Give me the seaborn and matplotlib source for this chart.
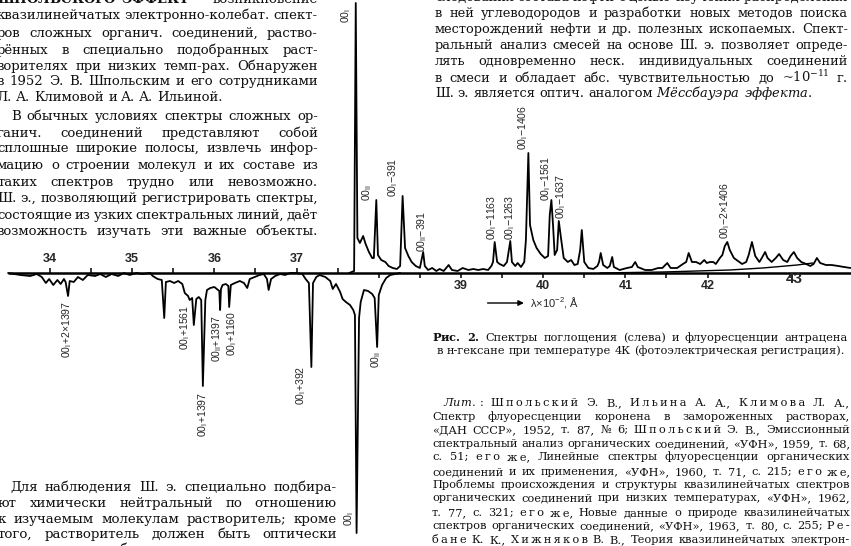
import matplotlib
matplotlib.use("Agg")
import matplotlib.pyplot as plt
import seaborn as sns

# absorption spectrum (left part, drawn downwards); wavelength in units of 100 A
abs_wl = [33.49, 33.64, 33.76, 33.84, 33.90, 33.95, 33.99, 34.04, 34.09, 34.13,
          34.17, 34.19, 34.22, 34.24, 34.29, 34.34, 34.40, 34.46, 34.55, 34.61,
          34.68, 34.75, 34.83, 34.90, 34.97, 35.05, 35.12, 35.22, 35.25, 35.31,
          35.36, 35.39, 35.41, 35.46, 35.51, 35.56, 35.61, 35.64, 35.68, 35.70,
          35.73, 35.75, 35.78, 35.81, 35.84, 35.86, 35.89, 35.91, 35.95, 36.00,
          36.03, 36.06, 36.07, 36.08, 36.10, 36.14, 36.17, 36.18, 36.20, 36.25,
          36.31, 36.36, 36.40, 36.43, 36.49, 36.55, 36.60, 36.64, 36.66, 36.69,
          36.74, 36.80, 36.86, 36.92, 36.99, 37.07, 37.11, 37.15, 37.18, 37.20,
          37.24, 37.28, 37.35, 37.41, 37.44, 37.48, 37.53, 37.56, 37.60, 37.65,
          37.69, 37.71, 37.73, 37.76, 37.78, 37.82, 37.87, 37.92, 37.95, 37.98,
          38.00, 38.04, 38.09, 38.14, 38.20, 38.26]
abs_int = [0, -2, -3, -1, -4, -10, -6, -12, -7, -11,
           -6, -9, -23, -8, -9, -4, -7, -2, -3, -1,
           -4, -1, -3, 0, -2, 0, -1, 0, -3, -6,
           -7, -45, -9, -8, -10, -8, -11, -20, -23, -27,
           -25, -52, -26, -24, -27, -113, -27, -17, -15, -14,
           -16, -18, -37, -16, -12, -11, -13, -34, -12, -10,
           -8, -10, -15, -6, -4, -2, -1, -6, -17, -6,
           -3, -1, -2, 0, 0, -1, -6, -10, -94, -10,
           -4, -2, -4, -8, -16, -11, -19, -26, -29, -32,
           -37, -42, -260, -45, -29, -17, -18, -21, -25, -74,
           -22, -12, -5, -2, -1, 0]

# fluorescence spectrum (right part, drawn upwards)
fl_wl = [37.64, 37.67, 37.70, 37.72, 37.74, 37.77, 37.81, 37.84, 37.88, 37.92,
         37.94, 37.97, 37.99, 38.03, 38.08, 38.12, 38.17, 38.22, 38.26, 38.29,
         38.32, 38.36, 38.40, 38.45, 38.50, 38.54, 38.56, 38.60, 38.65, 38.70,
         38.74, 38.79, 38.85, 38.89, 38.96, 39.02, 39.09, 39.15, 39.21, 39.27,
         39.33, 39.37, 39.39, 39.41, 39.44, 39.47, 39.52, 39.56, 39.60, 39.62,
         39.66, 39.69, 39.73, 39.77, 39.79, 39.82, 39.84, 39.88, 39.92, 39.97,
         40.02, 40.06, 40.08, 40.10, 40.12, 40.14, 40.17, 40.19, 40.22, 40.25,
         40.30, 40.34, 40.38, 40.42, 40.45, 40.47, 40.50, 40.55, 40.61, 40.66,
         40.68, 40.70, 40.73, 40.78, 40.81, 40.84, 40.86, 40.93, 41.02, 41.08,
         41.12, 41.15, 41.24, 41.32, 41.40, 41.45, 41.51, 41.55, 41.63, 41.70,
         41.74, 41.77, 41.81, 41.86, 41.91, 41.96, 41.99, 42.03, 42.07, 42.10,
         42.15, 42.18, 42.21, 42.24, 42.27, 42.32, 42.37, 42.42, 42.47, 42.50,
         42.54, 42.58, 42.63, 42.66, 42.70, 42.73, 42.78, 42.83, 42.87, 42.92,
         42.97, 43.01, 43.05, 43.09, 43.14, 43.20, 43.25, 43.29, 43.33, 43.37,
         43.44, 43.51, 43.59, 43.66, 43.74]
fl_int = [0, 1, 2, 270, 35, 30, 37, 29, 21, 15,
          15, 73, 18, 13, 11, 7, 5, 4, 7, 77,
          25, 17, 11, 7, 5, 21, 7, 3, 5, 2,
          4, 2, 8, 3, 2, 5, 3, 4, 3, 4,
          3, 7, 11, 31, 11, 9, 7, 11, 32, 11,
          7, 10, 6, 11, 33, 120, 48, 33, 25, 19,
          15, 17, 58, 73, 48, 18, 23, 52, 33, 15,
          11, 13, 8, 9, 23, 43, 11, 5, 4, 7,
          11, 20, 8, 5, 7, 16, 6, 3, 5, 6,
          11, 6, 3, 3, 5, 5, 10, 5, 5, 9,
          11, 20, 11, 11, 9, 13, 10, 11, 11, 9,
          15, 18, 27, 31, 23, 15, 12, 9, 11, 18,
          31, 17, 11, 15, 21, 15, 11, 15, 19, 13,
          11, 17, 21, 15, 11, 9, 7, 9, 15, 10,
          8, 8, 7, 6, 5]

# smooth background line under the long-wave end of the fluorescence
bg_wl = [40.69, 41.46, 42.27, 42.67, 43.09, 43.28]
bg_int = [0, 1, 3, 5, 8, 10]

# axis ticks
abs_major = [34, 35, 36, 37]
abs_minor = [34.5, 35.5, 36.5, 37.5]
fl_major = [39, 40, 41, 42, 43]
fl_minor = [38.0, 38.5, 39.5, 40.5, 41.5, 42.5]

I = r"$_\mathregular{I}$"
II = r"$_\mathregular{II}$"
fl_names = ["00" + I, "00" + II, "00" + I + "−391", "00" + II + "−391", "00" + I + "−1163",
            "00" + I + "−1263", "00" + I + "−1406", "00" + I + "−1561", "00" + I + "−1637",
            "00" + I + "−2×1406"]
abs_names = ["00" + I + "+2×1397", "00" + I + "+1561", "00" + I + "+1397", "00" + II + "+1397",
             "00" + I + "+1160", "00" + I + "+392", "00" + II, "00" + I]

sns.set_theme(style="white")
plt.rcParams["font.family"] = ["DejaVu Serif"]
plt.rcParams["mathtext.fontset"] = "dejavuserif"
SANS = ["Liberation Sans", "DejaVu Sans"]

W, H = 851, 546
fig = plt.figure(figsize=(W / 100, H / 100), dpi=100)
ax = fig.add_axes([0, 0, 1, 1])
ax.set_xlim(33.392, 43.745)
ax.set_ylim(-273, 273)
ax.set_axis_off()

sns.lineplot(x=abs_wl, y=abs_int, sort=False, estimator=None, color="black", lw=1.3, ax=ax)
sns.lineplot(x=fl_wl, y=fl_int, sort=False, estimator=None, color="black", lw=1.3, ax=ax)
sns.lineplot(x=bg_wl, y=bg_int, sort=False, estimator=None, color="black", lw=1.0, ax=ax)
ax.hlines(0, 33.49, 43.745, color="black", lw=1.8)

# ticks: absorption scale above the line, fluorescence scale below it
ax.vlines(abs_major + abs_minor, 0, 5, color="black", lw=1.1)
ax.vlines(fl_major + fl_minor, -5, 0, color="black", lw=1.1)
for t in abs_major:
    ax.text(t, 14, str(t), ha="center", va="center", fontsize=9, weight="bold", family=SANS)
for t in fl_major[:-1]:
    ax.text(t, -13, str(t), ha="center", va="center", fontsize=9, weight="bold", family=SANS)
ax.text(43.06, -6, "43", ha="center", va="center", fontsize=11, weight="bold", family=SANS)

ax.annotate("", xy=(39.80, -30), xytext=(39.29, -30),
            arrowprops=dict(arrowstyle="-|>", color="black", lw=1.0, mutation_scale=8))
ax.text(39.84, -30, r"λ×10$^\mathregular{-2}$, Å", ha="left", va="center", fontsize=8, family=SANS)

# line assignments, written vertically next to the peaks
fl_pos = [(37.60, 258), (37.86, 80), (38.17, 96), (38.53, 42), (39.38, 56),
          (39.60, 56), (39.75, 146), (40.03, 95), (40.22, 77), (42.21, 63)]
abs_pos = [(34.21, -56), (35.64, -54), (35.86, -141), (36.03, -66),
           (36.21, -60), (37.05, -112), (37.97, -87), (37.64, -245)]
for name, (x, y) in zip(fl_names + abs_names, fl_pos + abs_pos):
    ax.text(x, y, name, rotation=90, ha="center", va="center", fontsize=7.6, family=SANS)

renderer = fig.canvas.get_renderer()


def sp(word):
    # letter-spaced names as in the printed reference list
    return "\u2009".join(word)


def put_line(text, x0, y, size, x1=None):
    words = text.split(" ")
    arts = [fig.text(0, 0, w, fontsize=size, va="baseline", color="#111111") for w in words]
    widths = [a.get_window_extent(renderer).width for a in arts]
    gap = size * 100 / 72 * 0.3
    if x1 is not None and len(words) > 1:
        gap = max(2.0, (x1 - x0 - sum(widths)) / (len(words) - 1))
    x = x0
    for a, w in zip(arts, widths):
        a.set_position((x / W, 1 - y / H))
        x += w + gap


# (baseline y, text, indent, justified)
left_top = [
    (3, r"$\mathbf{ШПОЛЬСКОГО}$ $\mathbf{ЭФФЕКТ}$ — возникновение", 0, True),
    (19, "квазилинейчатых электронно-колебат. спект-", 0, True),
    (37, "ров сложных органич. соединений, раство-", 0, True),
    (54, "рённых в специально подобранных раст-", 0, True),
    (70, "ворителях при низких темп-рах. Обнаружен", 0, True),
    (85, "в 1952 Э. В. Шпольским и его сотрудниками", 0, True),
    (101, "Л. А. Климовой и А. А. Ильиной.", 0, False),
    (120, "В обычных условиях спектры сложных ор-", 14, True),
    (137, "ганич. соединений представляют собой", 0, True),
    (152, "сплошные широкие полосы, извлечь инфор-", 0, True),
    (169, "мацию о строении молекул и их составе из", 0, True),
    (186, "таких спектров трудно или невозможно.", 0, True),
    (202, "Ш. э., позволяющий регистрировать спектры,", 0, True),
    (219, "состоящие из узких спектральных линий, даёт", 0, True),
    (235, "возможность изучать эти важные объекты.", 0, True),
]
for y, text, ind, just in left_top:
    put_line(text, -3 + ind, y, 9.5, 318 if just else None)

left_bottom = [
    (491, "Для наблюдения Ш. э. специально подбира-", 12, True),
    (507, "ют химически нейтральный по отношению", 0, True),
    (523, "к изучаемым молекулам растворитель; кроме", 0, True),
    (538, "того, растворитель должен быть оптически", 0, True),
    (553, "прозрачным в области поглощения и испус-", 0, True),
]
for y, text, ind, just in left_bottom:
    put_line(text, -2 + ind, y, 9.6, 337 if just else None)

right_top = [
    (1, "следования состава нефти с целью изучения распределения", 0, True),
    (17, "в ней углеводородов и разработки новых методов поиска", 0, True),
    (33, "месторождений нефти и др. полезных ископаемых. Спект-", 0, True),
    (49, "ральный анализ смесей на основе Ш. э. позволяет опреде-", 0, True),
    (65, "лять одновременно неск. индивидуальных соединений", 0, True),
    (82, r"в смеси и обладает абс. чувствительностью до ~10$^{-11}$ г.", 0, True),
    (97, r"Ш. э. является оптич. аналогом $\mathit{Мёссбауэра}$ $\mathit{эффекта}$.", 0, False),
]
for y, text, ind, just in right_top:
    put_line(text, 435 + ind, y, 9.4, 848 if just else None)

put_line(r"$\mathbf{Рис.}$ $\mathbf{2.}$ Спектры поглощения (слева) и флуоресценции антрацена",
         432, 341, 8.2, 848)
put_line("в н-гексане при температуре 4К (фотоэлектрическая регистрация).", 437, 354, 8.2, 845)

literature = [
    (406, r"$\mathit{Лит.:}$ " + sp("Шпольский") + " Э. В., " + sp("Ильина") + " А. А., "
     + sp("Климова") + " Л. А.,", 11),
    (420, "Спектр флуоресценции коронена в замороженных растворах,", 0),
    (433, "«ДАН СССР», 1952, т. 87, № 6; " + sp("Шпольский") + " Э. В., Эмиссионный", 0),
    (447, "спектральный анализ органических соединений, «УФН», 1959, т. 68,", 0),
    (460, "с. 51; " + sp("его") + " " + sp("же") + ", Линейные спектры флуоресценции органических", 0),
    (475, "соединений и их применения, «УФН», 1960, т. 71, с. 215; " + sp("его") + " " + sp("же") + ",", 0),
    (488, "Проблемы происхождения и структуры квазилинейчатых спектров", 0),
    (501, "органических соединений при низких температурах, «УФН», 1962,", 0),
    (516, "т. 77, с. 321; " + sp("его") + " " + sp("же") + ", Новые данные о природе квазилинейчатых", 0),
    (529, "спектров органических соединений, «УФН», 1963, т. 80, с. 255; " + sp("Ре-"), 0),
    (543, sp("бане") + " К. К., " + sp("Хижняков") + " В. В., Теория квазилинейчатых электрон-", 0),
]
for y, text, ind in literature:
    put_line(text, 432 + ind, y, 8.2, 850)

fig.savefig("out.png", dpi=100)
